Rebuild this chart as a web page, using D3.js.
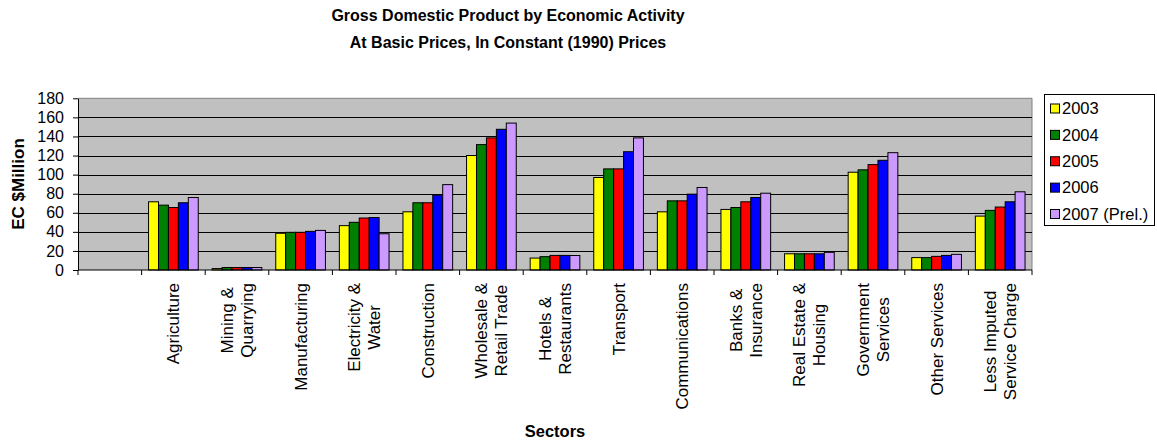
<!DOCTYPE html>
<html><head><meta charset="utf-8">
<script src="https://cdn.jsdelivr.net/npm/d3@7"></script>
<style>
body{margin:0;background:#fff}
svg{display:block;font-family:"Liberation Sans",Arial,sans-serif}
</style>
</head><body><svg id="c" width="1157" height="443"></svg>
<script>
const categories = ["", "Agriculture", "Mining &\nQuarrying", "Manufacturing", "Electricity &\nWater", "Construction",
  "Wholesale &\nRetail Trade", "Hotels &\nRestaurants", "Transport", "Communications", "Banks &\nInsurance",
  "Real Estate &\nHousing", "Government\nServices", "Other Services", "Less Imputed\nService Charge"];
const seriesNames = ["2003", "2004", "2005", "2006", "2007 (Prel.)"];
const v2003 = [null, 71.5, 1.5, 38.5, 46.5, 61, 120, 12.5, 97, 61, 63.5, 17, 102.5, 13, 56.5];
const v2004 = [null, 68, 2.6, 39.5, 50, 70.5, 131.5, 14, 106, 72.5, 65.5, 17, 105, 13, 62.5];
const v2005 = [null, 65.5, 2.6, 39.5, 54.5, 70.5, 138.5, 15.3, 106, 72.5, 71.5, 17, 110.5, 14.3, 66];
const v2006 = [null, 70.5, 2.6, 40.5, 55, 78.5, 147.5, 15.3, 124, 79.5, 76, 17, 115, 15.3, 71.5];
const v2007 = [null, 76, 2.6, 41.5, 38, 89.5, 154, 15.2, 138.5, 86.5, 80.5, 18.5, 123, 16.4, 82];
const seriesColors = ["#FFFF00", "#008000", "#FF0000", "#0000FF", "#CC99FF"];
const yTicks = [0, 20, 40, 60, 80, 100, 120, 140, 160, 180];
const titleLines = ["Gross Domestic Product by Economic Activity", "At Basic Prices, In Constant (1990) Prices"];
const yTitle = "EC $Million";
const xTitle = "Sectors";

const allValues = [v2003, v2004, v2005, v2006, v2007];
const svg = d3.select("#c");
const L = 78, R = 1032, T = 98.3, B = 270;

const x = d3.scaleBand().domain(d3.range(categories.length)).range([L, R]).padding(0);
const xs = d3.scaleBand().domain(seriesNames).range([0, x.bandwidth()]).paddingInner(0).paddingOuter(0.7);
const y = d3.scaleLinear().domain([0, 180]).range([B, T]);

// plot background
svg.append("rect").attr("x", L).attr("y", T).attr("width", R - L).attr("height", B - T).attr("fill", "#C0C0C0");
// border top/right
svg.append("path").attr("d", `M${L},${T}H${R}V${B}`).attr("fill", "none").attr("stroke", "#808080").attr("stroke-width", 1);
// gridlines
svg.append("g").selectAll("line").data(yTicks.filter(t => t > 0 && t < 180)).join("line")
  .attr("x1", L).attr("x2", R).attr("y1", d => Math.round(y(d)) + 0.5).attr("y2", d => Math.round(y(d)) + 0.5)
  .attr("stroke", "#000").attr("stroke-width", 1);

// bars
const rows = [];
categories.forEach((c, i) => seriesNames.forEach((s, j) => {
  if (allValues[j][i] != null) rows.push({ i, s, j, v: allValues[j][i] });
}));
svg.append("g").selectAll("rect").data(rows).join("rect")
  .attr("x", d => x(d.i) + xs(d.s))
  .attr("y", d => y(d.v))
  .attr("width", xs.bandwidth())
  .attr("height", d => B - y(d.v))
  .attr("fill", d => seriesColors[d.j])
  .attr("stroke", "#000").attr("stroke-width", 1);

// y axis
const yAxis = svg.append("g").attr("transform", `translate(${L},0)`)
  .call(d3.axisLeft(y).tickValues(yTicks).tickSize(5).tickSizeOuter(0).tickPadding(9));
yAxis.selectAll("text").attr("font-size", 16).attr("fill", "#000").attr("font-family", "Liberation Sans, Arial, sans-serif");
yAxis.selectAll("line,path").attr("stroke", "#000");

// x axis (category boundaries)
const xAxis = svg.append("g");
xAxis.append("line").attr("x1", L).attr("x2", R).attr("y1", B).attr("y2", B).attr("stroke", "#000");
xAxis.selectAll("line.tk").data(d3.range(categories.length + 1)).join("line").attr("class", "tk")
  .attr("x1", d => d < categories.length ? x(d) : R).attr("x2", d => d < categories.length ? x(d) : R)
  .attr("y1", B).attr("y2", B + 5).attr("stroke", "#000");

// category labels
const pitch = 20;
categories.forEach((c, i) => {
  if (!c) return;
  const lines = c.split("\n");
  const cx = x(i) + x.bandwidth() / 2;
  const g = svg.append("g");
  const texts = lines.map((ln, k) => g.append("text").text(ln).attr("font-size", 17).attr("text-anchor", "middle")
    .attr("fill", "#000").attr("dy", "0.35em"));
  const maxLen = d3.max(texts, t => t.node().getComputedTextLength());
  const cy = 283 + maxLen / 2;
  texts.forEach((t, k) => {
    const off = (k - (lines.length - 1) / 2) * pitch;
    t.attr("transform", `translate(${cx + off},${cy}) rotate(-90)`);
  });
});

// title
titleLines.forEach((t, k) => {
  svg.append("text").attr("transform", `translate(508,${k === 0 ? 21 : 48}) scale(0.92,1)`)
    .attr("text-anchor", "middle").attr("font-weight", "bold").attr("font-size", 17.4).attr("fill", "#000").text(t);
});
// axis titles
svg.append("text").attr("transform", `translate(24,184) rotate(-90)`).attr("text-anchor", "middle")
  .attr("font-weight", "bold").attr("font-size", 17).attr("fill", "#000").text(yTitle);
svg.append("text").attr("transform", `translate(555,437) scale(0.97,1)`).attr("text-anchor", "middle")
  .attr("font-weight", "bold").attr("font-size", 17).attr("fill", "#000").text(xTitle);

// legend
const lg = svg.append("g");
lg.append("rect").attr("x", 1044.5).attr("y", 94.5).attr("width", 110).attr("height", 131)
  .attr("fill", "#fff").attr("stroke", "#000");
const ly = d3.scalePoint().domain(seriesNames).range([108.5, 214]);
seriesNames.forEach((s, j) => {
  lg.append("rect").attr("x", 1050.5).attr("y", ly(s) - 4.5).attr("width", 9).attr("height", 9)
    .attr("fill", seriesColors[j]).attr("stroke", "#000");
  lg.append("text").attr("x", 1062).attr("y", ly(s)).attr("dy", "0.35em").attr("font-size", 16.5)
    .attr("fill", "#000").text(s);
});
</script>
</body></html>
